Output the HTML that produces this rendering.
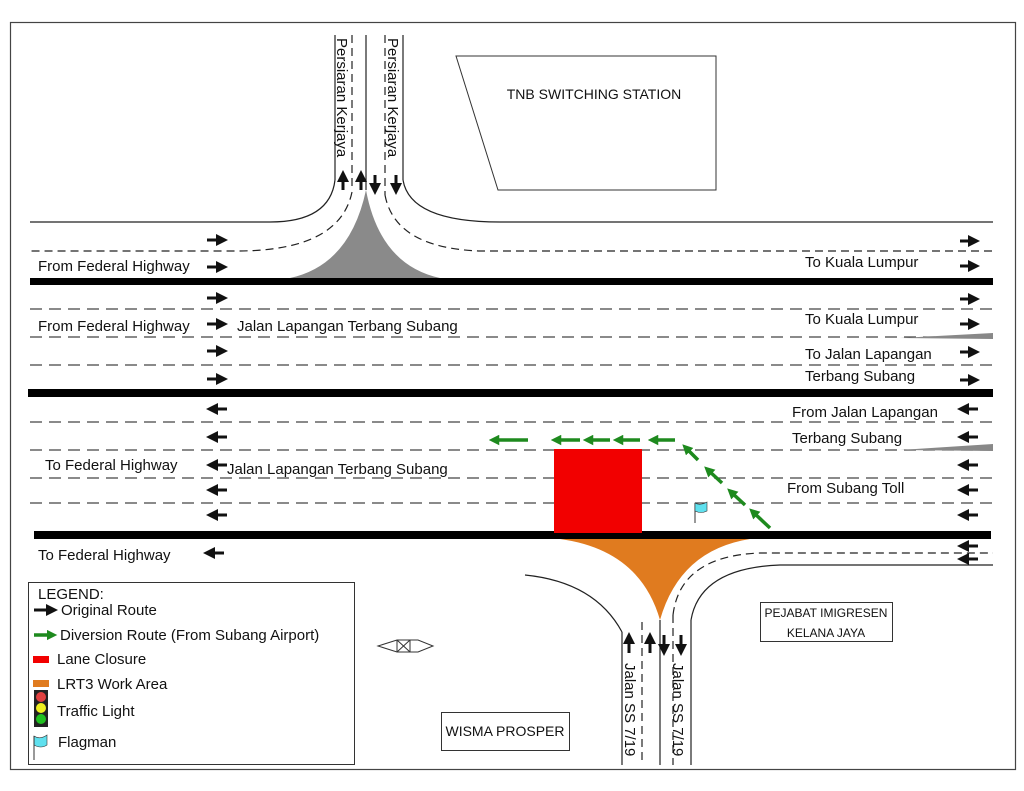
<!DOCTYPE html>
<html><head><meta charset="utf-8"><style>
html,body{margin:0;padding:0;background:#fff;}
svg{display:block;}
text{font-family:"Liberation Sans",sans-serif;fill:#111;}
</style></head><body>
<svg width="1024" height="791" viewBox="0 0 1024 791" xmlns="http://www.w3.org/2000/svg">
<defs>
<marker id="ah" markerWidth="4" markerHeight="4" refX="2" refY="2" orient="auto" markerUnits="strokeWidth"><path d="M0,0 L4,2 L0,4 z" fill="#111"/></marker>
<marker id="gh" markerWidth="3" markerHeight="3" refX="1.5" refY="1.5" orient="auto" markerUnits="strokeWidth"><path d="M0,0 L3,1.5 L0,3 z" fill="#1e8a1e"/></marker>
</defs>
<rect x="10.5" y="22.5" width="1005" height="747" fill="none" stroke="#444" stroke-width="1.2"/>

<!-- top road -->
<g fill="none" stroke="#222" stroke-width="1.2">
<line x1="335" y1="35" x2="335" y2="180"/>
<line x1="366" y1="35" x2="366" y2="190"/>
<line x1="403" y1="35" x2="403" y2="180"/>
<line x1="352" y1="35" x2="352" y2="190" stroke-dasharray="8,5"/>
<line x1="385" y1="35" x2="385" y2="195" stroke-dasharray="8,5"/>
<path d="M335,180 Q330,222 270,222 L30,222"/>
<path d="M403,180 Q410,222 500,222 L993,222"/>
<path d="M352,192 Q340,250 240,251 L30,251" stroke-dasharray="8,5"/>
<path d="M385,195 Q395,248 480,251 L993,251" stroke-dasharray="8,5"/>
</g>
<path d="M366,190 Q350,265 290,278 L440,278 Q380,265 366,190 z" fill="#8a8a8a"/>

<!-- horizontal lines -->
<g stroke="#444" stroke-width="1.2" stroke-dasharray="12,7">
<line x1="30" y1="309" x2="993" y2="309"/>
<line x1="30" y1="337" x2="993" y2="337"/>
<line x1="30" y1="365" x2="993" y2="365"/>
<line x1="30" y1="422" x2="993" y2="422"/>
<line x1="30" y1="450" x2="993" y2="450"/>
<line x1="30" y1="478" x2="993" y2="478"/>
<line x1="30" y1="503" x2="993" y2="503"/>
</g>
<rect x="30" y="278" width="963" height="7" fill="#000"/>
<rect x="28" y="389" width="965" height="8" fill="#000"/>
<rect x="34" y="531" width="957" height="8" fill="#000"/>
<path d="M900,338 L993,333 L993,339 z" fill="#888"/>
<path d="M900,450 L993,444 L993,451 z" fill="#888"/>

<!-- bottom road -->
<g fill="none" stroke="#222" stroke-width="1.2">
<line x1="622" y1="632" x2="622" y2="765"/>
<line x1="660" y1="620" x2="660" y2="765"/>
<line x1="691" y1="620" x2="691" y2="765"/>
<line x1="642" y1="622" x2="642" y2="765" stroke-dasharray="8,5"/>
<line x1="673" y1="615" x2="673" y2="765" stroke-dasharray="8,5"/>
<path d="M622,632 Q595,582 525,575"/>
<path d="M691,620 Q700,568 780,565 L993,565"/>
<path d="M673,615 Q680,556 760,553 L993,553" stroke-dasharray="8,5"/>
</g>
<path d="M560,539 Q640,550 660,620 Q680,550 750,539 z" fill="#e07b1f"/>
<rect x="554" y="449" width="88" height="84" fill="#f20000"/>

<!-- green diversion -->
<g stroke="#1e8a1e" stroke-width="3.5" fill="none">
<line x1="528" y1="440" x2="494" y2="440" marker-end="url(#gh)"/>
<line x1="580" y1="440" x2="556" y2="440" marker-end="url(#gh)"/>
<line x1="610" y1="440" x2="588" y2="440" marker-end="url(#gh)"/>
<line x1="640" y1="440" x2="618" y2="440" marker-end="url(#gh)"/>
<line x1="675" y1="440" x2="653" y2="440" marker-end="url(#gh)"/>
<line x1="698" y1="460" x2="686" y2="448" marker-end="url(#gh)"/>
<line x1="722" y1="483" x2="708" y2="470" marker-end="url(#gh)"/>
<line x1="745" y1="505" x2="731" y2="492" marker-end="url(#gh)"/>
<line x1="770" y1="528" x2="753" y2="512" marker-end="url(#gh)"/>
</g>
<!-- flag -->
<line x1="695" y1="503" x2="695" y2="523" stroke="#333" stroke-width="1"/>
<path d="M695,503 Q700,506 707,502 L707,511 Q701,514 695,511 z" fill="#5fe0ee" stroke="#333" stroke-width="0.6"/>

<!-- black arrows -->
<g stroke="#111" stroke-width="3" fill="none">
<line x1="207" y1="240" x2="222" y2="240" marker-end="url(#ah)"/>
<line x1="207" y1="267" x2="222" y2="267" marker-end="url(#ah)"/>
<line x1="207" y1="298" x2="222" y2="298" marker-end="url(#ah)"/>
<line x1="207" y1="324" x2="222" y2="324" marker-end="url(#ah)"/>
<line x1="207" y1="351" x2="222" y2="351" marker-end="url(#ah)"/>
<line x1="207" y1="379" x2="222" y2="379" marker-end="url(#ah)"/>
<line x1="227" y1="409" x2="212" y2="409" marker-end="url(#ah)"/>
<line x1="227" y1="437" x2="212" y2="437" marker-end="url(#ah)"/>
<line x1="227" y1="465" x2="212" y2="465" marker-end="url(#ah)"/>
<line x1="227" y1="490" x2="212" y2="490" marker-end="url(#ah)"/>
<line x1="227" y1="515" x2="212" y2="515" marker-end="url(#ah)"/>
<line x1="224" y1="553" x2="209" y2="553" marker-end="url(#ah)"/>
<line x1="960" y1="241" x2="974" y2="241" marker-end="url(#ah)"/>
<line x1="960" y1="266" x2="974" y2="266" marker-end="url(#ah)"/>
<line x1="960" y1="299" x2="974" y2="299" marker-end="url(#ah)"/>
<line x1="960" y1="324" x2="974" y2="324" marker-end="url(#ah)"/>
<line x1="960" y1="352" x2="974" y2="352" marker-end="url(#ah)"/>
<line x1="960" y1="380" x2="974" y2="380" marker-end="url(#ah)"/>
<line x1="978" y1="409" x2="963" y2="409" marker-end="url(#ah)"/>
<line x1="978" y1="437" x2="963" y2="437" marker-end="url(#ah)"/>
<line x1="978" y1="465" x2="963" y2="465" marker-end="url(#ah)"/>
<line x1="978" y1="490" x2="963" y2="490" marker-end="url(#ah)"/>
<line x1="978" y1="515" x2="963" y2="515" marker-end="url(#ah)"/>
<line x1="978" y1="546" x2="963" y2="546" marker-end="url(#ah)"/>
<line x1="978" y1="559" x2="963" y2="559" marker-end="url(#ah)"/>
<line x1="343" y1="190" x2="343" y2="176" marker-end="url(#ah)"/>
<line x1="361" y1="190" x2="361" y2="176" marker-end="url(#ah)"/>
<line x1="375" y1="175" x2="375" y2="189" marker-end="url(#ah)"/>
<line x1="396" y1="175" x2="396" y2="189" marker-end="url(#ah)"/>
<line x1="629" y1="653" x2="629" y2="638" marker-end="url(#ah)"/>
<line x1="650" y1="653" x2="650" y2="638" marker-end="url(#ah)"/>
<line x1="664" y1="635" x2="664" y2="650" marker-end="url(#ah)"/>
<line x1="681" y1="635" x2="681" y2="650" marker-end="url(#ah)"/>
</g>

<!-- buildings -->
<path d="M456,56 L716,56 L716,190 L498,190 z" fill="none" stroke="#333" stroke-width="1"/>
<text x="594" y="99" font-size="14" text-anchor="middle">TNB SWITCHING STATION</text>
<rect x="760.5" y="602.5" width="132" height="39" fill="none" stroke="#333"/>
<text x="826" y="617" font-size="12" text-anchor="middle">PEJABAT IMIGRESEN</text>
<text x="826" y="637" font-size="12" text-anchor="middle">KELANA JAYA</text>
<rect x="441.5" y="712.5" width="128" height="38" fill="none" stroke="#333"/>
<text x="505" y="736" font-size="14" text-anchor="middle">WISMA PROSPER</text>
<path d="M378,646 L397,640 L418,640 L433,646 L418,652 L397,652 z M397,640 L397,652 M410,640 L410,652 M397,640 L410,652 M410,640 L397,652" fill="none" stroke="#333" stroke-width="1"/>

<!-- road labels -->
<g font-size="15">
<text x="38" y="271">From Federal Highway</text>
<text x="38" y="331">From Federal Highway</text>
<text x="237" y="331">Jalan Lapangan Terbang Subang</text>
<text x="45" y="470">To Federal Highway</text>
<text x="227" y="474">Jalan Lapangan Terbang Subang</text>
<text x="38" y="560">To Federal Highway</text>
<text x="805" y="267">To Kuala Lumpur</text>
<text x="805" y="324">To Kuala Lumpur</text>
<text x="805" y="359">To Jalan Lapangan</text>
<text x="805" y="381">Terbang Subang</text>
<text x="792" y="417">From Jalan Lapangan</text>
<text x="792" y="443">Terbang Subang</text>
<text x="787" y="493">From Subang Toll</text>
<text transform="translate(337,38) rotate(90)">Persiaran Kerjaya</text>
<text transform="translate(388,38) rotate(90)">Persiaran Kerjaya</text>
<text transform="translate(625,663) rotate(90)">Jalan SS 7/19</text>
<text transform="translate(673,663) rotate(90)">Jalan SS 7/19</text>
</g>

<!-- legend -->
<rect x="28.5" y="582.5" width="326" height="182" fill="#fff" stroke="#333"/>
<g font-size="15">
<text x="38" y="599">LEGEND:</text>
<text x="61" y="615">Original Route</text>
<text x="60" y="640">Diversion Route (From Subang Airport)</text>
<text x="57" y="664">Lane Closure</text>
<text x="57" y="689">LRT3 Work Area</text>
<text x="57" y="716">Traffic Light</text>
<text x="58" y="747">Flagman</text>
</g>
<line x1="34" y1="610" x2="52" y2="610" stroke="#111" stroke-width="3" marker-end="url(#ah)"/>
<line x1="34" y1="635" x2="52" y2="635" stroke="#1e8a1e" stroke-width="3.5" marker-end="url(#gh)"/>
<rect x="33" y="656" width="16" height="7" fill="#f20000"/>
<rect x="33" y="680" width="16" height="7" fill="#e07b1f"/>
<rect x="34" y="690" width="14" height="37" fill="#222"/>
<circle cx="41" cy="697" r="5" fill="#e04040"/>
<circle cx="41" cy="708" r="5" fill="#f0f020"/>
<circle cx="41" cy="719" r="5" fill="#20c020"/>
<path d="M34,736 Q40,740 47,735 L47,745 Q41,749 34,745 z" fill="#5fe0ee" stroke="#333" stroke-width="0.6"/>
<line x1="34" y1="736" x2="34" y2="760" stroke="#333"/>
</svg>
</body></html>
